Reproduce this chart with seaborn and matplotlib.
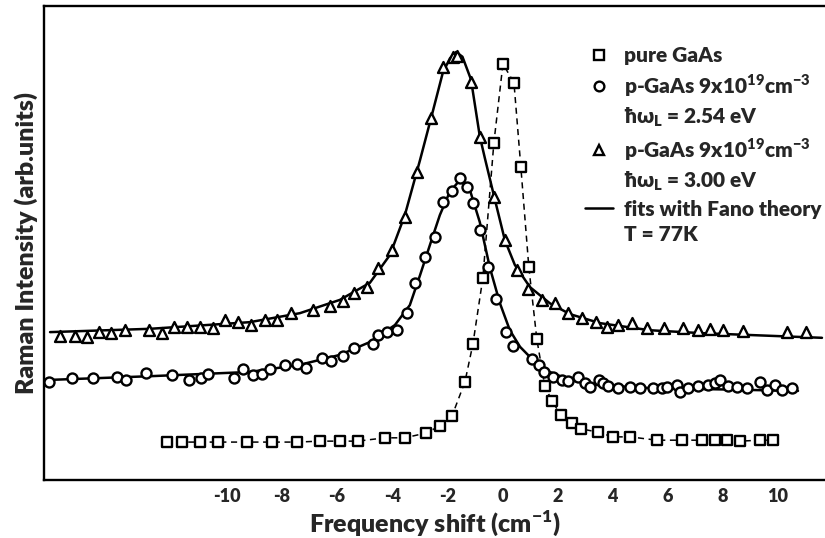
import numpy as np
import pandas as pd
import seaborn as sns
import matplotlib.pyplot as plt
from matplotlib.lines import Line2D

# pure GaAs (squares)
sq_x = [-12.18, -11.63, -10.98, -10.33, -9.27, -8.37, -7.46, -6.62, -5.90, -5.25,
        -4.26, -3.54, -2.78, -2.27, -1.83, -1.36, -1.07, -0.71, -0.31, 0.02,
        0.42, 0.67, 0.96, 1.25, 1.54, 1.80, 2.12, 2.52, 2.85, 3.47,
        4.01, 4.63, 5.61, 6.52, 7.24, 7.71, 8.15, 8.62, 9.35, 9.82]
sq_y = [8.0, 8.0, 8.0, 8.0, 8.0, 8.0, 8.0, 8.2, 8.2, 8.2,
        8.9, 8.9, 9.9, 11.4, 13.5, 20.7, 28.7, 42.6, 71.1, 87.8,
        83.8, 66.0, 44.9, 29.7, 19.8, 16.7, 13.7, 12.0, 10.8, 10.1,
        9.1, 9.1, 8.4, 8.4, 8.4, 8.4, 8.4, 8.2, 8.4, 8.4]

# p-GaAs, 2.54 eV (circles)
ci_x = [-16.46, -15.63, -14.86, -13.99, -13.67, -12.94, -12.00, -11.38, -10.94, -10.69,
        -9.75, -9.42, -9.06, -8.73, -8.44, -7.89, -7.46, -7.13, -6.55, -6.23,
        -5.79, -5.39, -4.70, -4.52, -4.19, -3.83, -3.47, -3.18, -2.81, -2.45,
        -2.16, -1.83, -1.54, -1.29, -1.07, -0.82, -0.53, -0.24, 0.13, 0.38,
        1.07, 1.32, 1.51, 1.83, 2.16, 2.38, 2.74, 2.99, 3.18, 3.50,
        3.65, 3.83, 4.19, 4.63, 4.99, 5.46, 5.79, 5.97, 6.33, 6.44,
        6.73, 7.10, 7.46, 7.71, 7.89, 8.19, 8.51, 8.87, 9.35, 9.60,
        9.89, 10.15, 10.51]
ci_y = [20.7, 21.5, 21.5, 21.7, 21.1, 22.6, 22.2, 21.1, 21.5, 22.4,
        21.5, 23.4, 22.2, 22.4, 23.4, 24.3, 24.5, 23.6, 25.7, 25.1,
        26.2, 27.8, 28.7, 30.6, 31.2, 31.6, 35.2, 41.6, 47.0, 51.3,
        58.6, 61.0, 63.7, 61.8, 58.4, 52.7, 44.9, 38.2, 31.2, 28.3,
        25.5, 24.3, 22.8, 21.7, 21.1, 20.9, 21.7, 20.5, 19.6, 21.1,
        20.5, 19.8, 19.4, 19.6, 19.4, 19.4, 19.4, 19.6, 20.0, 18.6,
        19.4, 19.8, 20.0, 20.5, 21.1, 19.8, 19.6, 19.4, 20.7, 19.0,
        20.0, 19.0, 19.4]

# p-GaAs, 3.00 eV (triangles)
tr_x = [-16.06, -15.52, -15.08, -14.65, -14.21, -13.70, -12.83, -12.36, -11.92, -11.45,
        -10.98, -10.51, -10.07, -9.60, -9.13, -8.62, -8.19, -7.68, -6.88, -6.26,
        -5.79, -5.39, -4.92, -4.52, -4.01, -3.54, -3.10, -2.60, -2.16, -1.80,
        -1.66, -1.14, -0.82, -0.31, 0.09, 0.53, 0.93, 1.43, 1.91, 2.38,
        2.89, 3.39, 3.79, 4.19, 4.70, 5.25, 5.86, 6.55, 7.10, 7.53,
        8.02, 8.73, 10.33, 11.02]
tr_y = [30.4, 30.4, 30.2, 31.2, 31.0, 31.6, 31.6, 31.0, 32.3, 32.3,
        32.3, 32.1, 33.8, 33.3, 32.7, 33.8, 33.8, 35.2, 35.9, 36.7,
        37.8, 39.5, 40.7, 44.7, 48.5, 55.5, 65.0, 76.4, 87.1, 89.2,
        89.5, 84.0, 72.4, 59.7, 50.6, 44.3, 40.3, 38.0, 37.3, 35.2,
        34.2, 33.3, 32.3, 32.7, 33.1, 32.1, 32.1, 32.1, 31.6, 31.9,
        31.6, 31.4, 31.2, 31.2]

# Fano fits
fit_ci_x = [-16.53, -12.79, -9.17, -7.35, -5.90, -4.81, -3.90, -3.36, -2.99, -2.63,
            -2.27, -1.91, -1.54, -1.18, -0.82, -0.45, -0.09, 0.27, 0.64, 1.18,
            1.72, 2.45, 3.54, 5.35, 7.17, 10.73]
fit_ci_y = [21.1, 21.9, 22.8, 24.3, 26.4, 29.1, 32.7, 36.9, 43.2, 49.6,
            55.9, 60.8, 63.3, 61.2, 54.4, 44.7, 37.3, 31.6, 28.1, 24.9,
            22.8, 21.1, 20.0, 19.4, 19.2, 18.8]
fit_tr_x = [-16.42, -12.79, -9.17, -7.35, -5.90, -4.81, -4.08, -3.54, -2.99, -2.56,
            -2.16, -1.90, -1.68, -1.45, -1.14, -0.82, -0.64, -0.27, 0.09, 0.45,
            1.00, 1.72, 2.45, 3.54, 5.35, 7.17, 11.60]
fit_tr_y = [31.2, 31.9, 33.3, 35.2, 38.0, 41.6, 47.5, 55.9, 67.5, 77.0,
            86.0, 89.0, 90.3, 89.3, 84.5, 72.5, 68.0, 59.1, 50.6, 45.4,
            40.7, 37.3, 35.0, 33.1, 31.6, 31.0, 30.0]

xticks = [-10, -8, -6, -4, -2, 0, 2, 4, 6, 8, 10]

sns.set_style("white")
plt.rcParams['font.family'] = ['Lato', 'DejaVu Sans']
plt.rcParams['font.weight'] = 'heavy'
plt.rcParams['axes.unicode_minus'] = False

fig = plt.figure(figsize=(8.25, 5.38), dpi=100)
ax = fig.add_axes([0.0533, 0.1078, 0.9467, 0.881])

sns.lineplot(x=fit_tr_x, y=fit_tr_y, ax=ax, color='black', lw=1.8, sort=False)
sns.lineplot(x=fit_ci_x, y=fit_ci_y, ax=ax, color='black', lw=1.8, sort=False)
sns.lineplot(x=sq_x, y=sq_y, ax=ax, color='black', lw=1.1, ls=(0, (4, 3)), sort=False)

sns.scatterplot(x=sq_x, y=sq_y, ax=ax, marker='s', s=42, facecolor='white',
                edgecolor='black', linewidth=1.7, zorder=3)
sns.scatterplot(x=ci_x, y=ci_y, ax=ax, marker='o', s=52, facecolor='white',
                edgecolor='black', linewidth=1.7, zorder=3)
sns.scatterplot(x=tr_x, y=tr_y, ax=ax, marker='^', s=62, facecolor='white',
                edgecolor='black', linewidth=1.7, zorder=3)

ax.set_xlim(-16.64, 11.71)
ax.set_ylim(0, 100)
ax.set_xticks(xticks)
ax.set_xticklabels([str(t) for t in xticks])
ax.set_yticks([])
ax.tick_params(axis='x', direction='in', length=8, width=1.5, labelsize=13, pad=6)
for side in ['left', 'bottom', 'top']:
    ax.spines[side].set_linewidth(1.7)
    ax.spines[side].set_color('black')
ax.spines['right'].set_visible(False)

ax.set_xlabel('Frequency shift (cm$^{\\mathregular{-1}}$)', fontsize=18, fontweight='heavy', labelpad=2)
ax.set_ylabel('Raman Intensity (arb.units)', fontsize=18, fontweight='heavy', labelpad=4)

mk = dict(color='white', markeredgecolor='black', markeredgewidth=1.7, lw=0)
blank = Line2D([], [], lw=0, marker=None)
handles = [
    Line2D([], [], marker='s', markersize=6.5, **mk),
    Line2D([], [], marker='o', markersize=7, **mk),
    blank,
    Line2D([], [], marker='^', markersize=7.5, **mk),
    blank,
    Line2D([], [], color='black', lw=1.8),
    blank,
]
labels = [
    'pure GaAs',
    'p-GaAs 9x10$^{\\mathregular{19}}$cm$^{\\mathregular{-3}}$',
    'ħω$_{\\mathregular{L}}$ = 2.54 eV',
    'p-GaAs 9x10$^{\\mathregular{19}}$cm$^{\\mathregular{-3}}$',
    'ħω$_{\\mathregular{L}}$ = 3.00 eV',
    'fits with Fano theory',
    'T = 77K',
]
ax.legend(handles, labels, loc='upper left', bbox_to_anchor=(0.6927, 0.915),
          frameon=False, borderpad=0, borderaxespad=0, handlelength=1.35,
          handletextpad=0.5, labelspacing=0.32, prop={'size': 15, 'weight': 'heavy'})

fig.savefig('out.png', dpi=100)
